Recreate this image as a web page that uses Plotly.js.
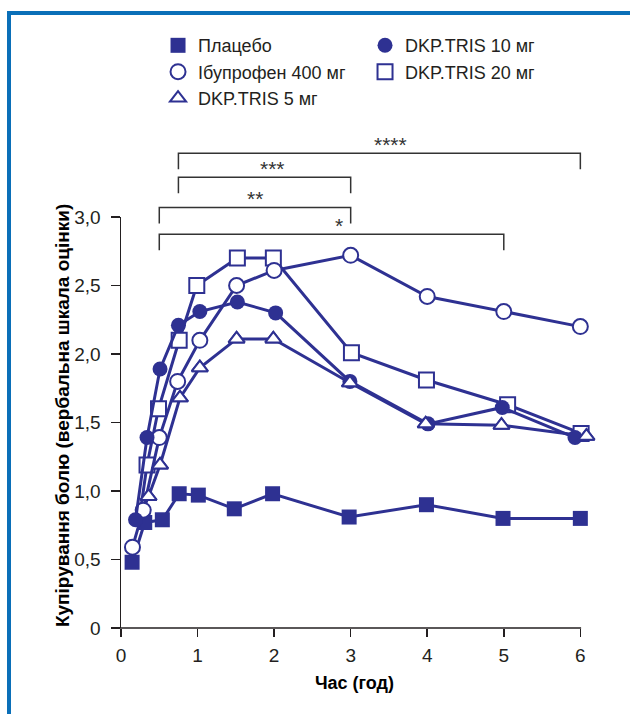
<!DOCTYPE html>
<html>
<head>
<meta charset="utf-8">
<script src="https://cdn.plot.ly/plotly-3.0.1.min.js"></script>
<style>
html,body{margin:0;padding:0;background:#fff;}
#wrap{position:relative;width:630px;height:714px;}
#chart{width:630px;height:714px;}
#frame{position:absolute;left:7px;top:11px;right:0;bottom:0;border-top:4px solid #0a6fb8;border-left:4px solid #0a6fb8;pointer-events:none;}
</style>
</head>
<body>
<div id="wrap"><div id="chart"></div><div id="frame"></div></div>
<script>
// ---- data ----
const seriesNames = ['Плацебо', 'Ібупрофен 400 мг', 'DKP.TRIS 5 мг', 'DKP.TRIS 10 мг', 'DKP.TRIS 20 мг'];

const placeboX = [0.145, 0.31, 0.54, 0.76, 1.01, 1.48, 1.98, 2.98, 3.99, 4.99, 6.0];
const placeboY = [0.48, 0.77, 0.79, 0.98, 0.97, 0.87, 0.98, 0.81, 0.90, 0.80, 0.80];

const ibuX = [0.15, 0.29, 0.50, 0.74, 1.03, 1.51, 2.0, 3.0, 4.0, 5.0, 6.0];
const ibuY = [0.59, 0.86, 1.39, 1.80, 2.10, 2.50, 2.61, 2.72, 2.42, 2.31, 2.20];

const dkp5X = [0.24, 0.36, 0.51, 0.77, 1.03, 1.51, 1.99, 2.99, 3.98, 4.97, 6.08];
const dkp5Y = [0.80, 0.96, 1.19, 1.68, 1.90, 2.11, 2.11, 1.79, 1.49, 1.48, 1.40];

const dkp10X = [0.19, 0.34, 0.51, 0.75, 1.03, 1.52, 2.02, 2.99, 4.01, 4.98, 5.93];
const dkp10Y = [0.79, 1.39, 1.89, 2.21, 2.31, 2.38, 2.30, 1.80, 1.49, 1.61, 1.39];

const dkp20X = [0.24, 0.34, 0.49, 0.76, 0.99, 1.52, 1.99, 3.01, 3.99, 5.05, 6.01];
const dkp20Y = [0.80, 1.19, 1.60, 2.10, 2.50, 2.70, 2.70, 2.01, 1.81, 1.63, 1.42];

const xTickVals = [0, 1, 2, 3, 4, 5, 6];
const xTickText = ['0', '1', '2', '3', '4', '5', '6'];
const yTickVals = [0, 0.5, 1.0, 1.5, 2.0, 2.5, 3.0];
const yTickText = ['0', '0,5', '1,0', '1,5', '2,0', '2,5', '3,0'];

const xTitle = 'Час (год)';
const yTitle = 'Купірування болю (вербальна шкала оцінки)';

// significance brackets
const bracketStart = [0.75, 0.75, 0.5, 0.5];
const bracketEnd   = [6, 3, 3, 5];
const bracketLevel = [3.465, 3.29, 3.07, 2.875];
const bracketLabel = ['****', '***', '**', '*'];
const bracketLabelX = [3.52, 1.98, 1.75, 2.85];

// ---- styling ----
const C = '#2e3192';
const AX = '#231f20';
const xAxisEnd = 6;          // visible x-axis line ends here
const xRange = [0, 6.1];     // a little room for markers drawn just past 6
const yRange = [0, 3];
const legH = 0.117;
const plotLeft = 121, unitPx = 76.5;
const plotWidth = unitPx * (xRange[1] - xRange[0]);

function markerStyle(symbol, filled) {
  return {symbol: symbol, size: symbol === 'triangle-up' ? 14 : 15,
          color: filled ? C : '#ffffff', line: {color: C, width: filled ? 0 : 2}};
}
function mk(x, y, symbol, filled, hideFirst) {
  const m = markerStyle(symbol, filled);
  if (hideFirst) m.opacity = x.map((_, i) => i === 0 ? 0 : 1); // first point sits hidden behind other markers
  return {
    type: 'scatter', mode: 'lines+markers', x: x, y: y, showlegend: false,
    cliponaxis: false, line: {color: C, width: 3}, marker: m
  };
}
function leg(name, symbol, filled, rank) {
  return {type: 'scatter', mode: 'markers', x: [null], y: [null], name: name,
          legendrank: rank, marker: markerStyle(symbol, filled)};
}

const data = [
  mk(dkp20X, dkp20Y, 'square', false, true),
  mk(dkp5X, dkp5Y, 'triangle-up', false, true),
  mk(placeboX, placeboY, 'square', true, false),
  mk(ibuX, ibuY, 'circle', false, false),
  mk(dkp10X, dkp10Y, 'circle', true, false),
  // DKP5 markers again on top of the filled circles
  {type: 'scatter', mode: 'markers', x: dkp5X.slice(1), y: dkp5Y.slice(1),
   showlegend: false, cliponaxis: false, marker: markerStyle('triangle-up', false)},
  leg(seriesNames[0], 'square', true, 1),
  leg(seriesNames[3], 'circle', true, 2),
  leg(seriesNames[1], 'circle', false, 3),
  leg(seriesNames[4], 'square', false, 4),
  leg(seriesNames[2], 'triangle-up', false, 5)
];

const px = v => (v - xRange[0]) / (xRange[1] - xRange[0]);
const py = v => (v - yRange[0]) / (yRange[1] - yRange[0]);

const shapes = bracketStart.map((s, i) => {
  const x0 = px(s), x1 = px(bracketEnd[i]);
  const yt = py(bracketLevel[i]), yb = py(bracketLevel[i] - legH);
  return {type: 'path', xref: 'paper', yref: 'paper',
          path: `M${x0},${yb} L${x0},${yt} L${x1},${yt} L${x1},${yb}`,
          line: {color: '#333333', width: 1.5}};
});
// x-axis line from 0 to 6 only
shapes.push({type: 'line', xref: 'paper', yref: 'paper', x0: px(0) - 1 / plotWidth, x1: px(xAxisEnd) + 0.75 / plotWidth,
             y0: 0, y1: 0, line: {color: AX, width: 1.5}});

const annotations = bracketLabel.map((t, i) => ({
  xref: 'paper', yref: 'paper', x: px(bracketLabelX[i]), y: py(bracketLevel[i]),
  text: t, showarrow: false, xanchor: 'center', yanchor: 'middle', yshift: 9,
  font: {size: 21, color: '#333333'}
}));
annotations.push({
  xref: 'paper', yref: 'paper', x: (62 - plotLeft) / plotWidth, y: 0.518, xanchor: 'center', yanchor: 'middle',
  text: yTitle, textangle: -90, showarrow: false,
  font: {size: 19, weight: 'bold', color: '#000'}
});

const axisCommon = {
  showgrid: false, zeroline: false, linecolor: AX, linewidth: 1.5,
  ticks: 'outside', tickwidth: 1.5, tickcolor: AX, tickfont: {size: 19, color: AX},
  tickmode: 'array', fixedrange: true
};

const layout = {
  width: 630, height: 714,
  margin: {l: plotLeft, r: 630 - plotLeft - plotWidth, t: 217, b: 86, pad: 0},
  paper_bgcolor: 'rgba(0,0,0,0)', plot_bgcolor: 'rgba(0,0,0,0)',
  font: {family: 'Liberation Sans, Arial, sans-serif', size: 18, color: AX},
  showlegend: true,
  legend: {orientation: 'h', x: 37 / plotWidth, xanchor: 'left', y: 1.462, yanchor: 'top',
           entrywidth: 162, entrywidthmode: 'pixels', traceorder: 'normal',
           font: {size: 18, color: AX}, bgcolor: 'rgba(0,0,0,0)'},
  xaxis: Object.assign({}, axisCommon, {
    range: xRange, showline: false, tickvals: xTickVals, ticktext: xTickText, ticklen: 8, ticklabelstandoff: 2,
    title: {text: xTitle, font: {size: 18, weight: 'bold', color: '#000'}, standoff: 11}
  }),
  yaxis: Object.assign({}, axisCommon, {
    range: yRange, showline: true, tickvals: yTickVals, ticktext: yTickText, ticklen: 9, ticklabelstandoff: 6
  }),
  shapes: shapes,
  annotations: annotations
};

Plotly.newPlot('chart', data, layout, {displayModeBar: false, staticPlot: true});
</script>
</body>
</html>
